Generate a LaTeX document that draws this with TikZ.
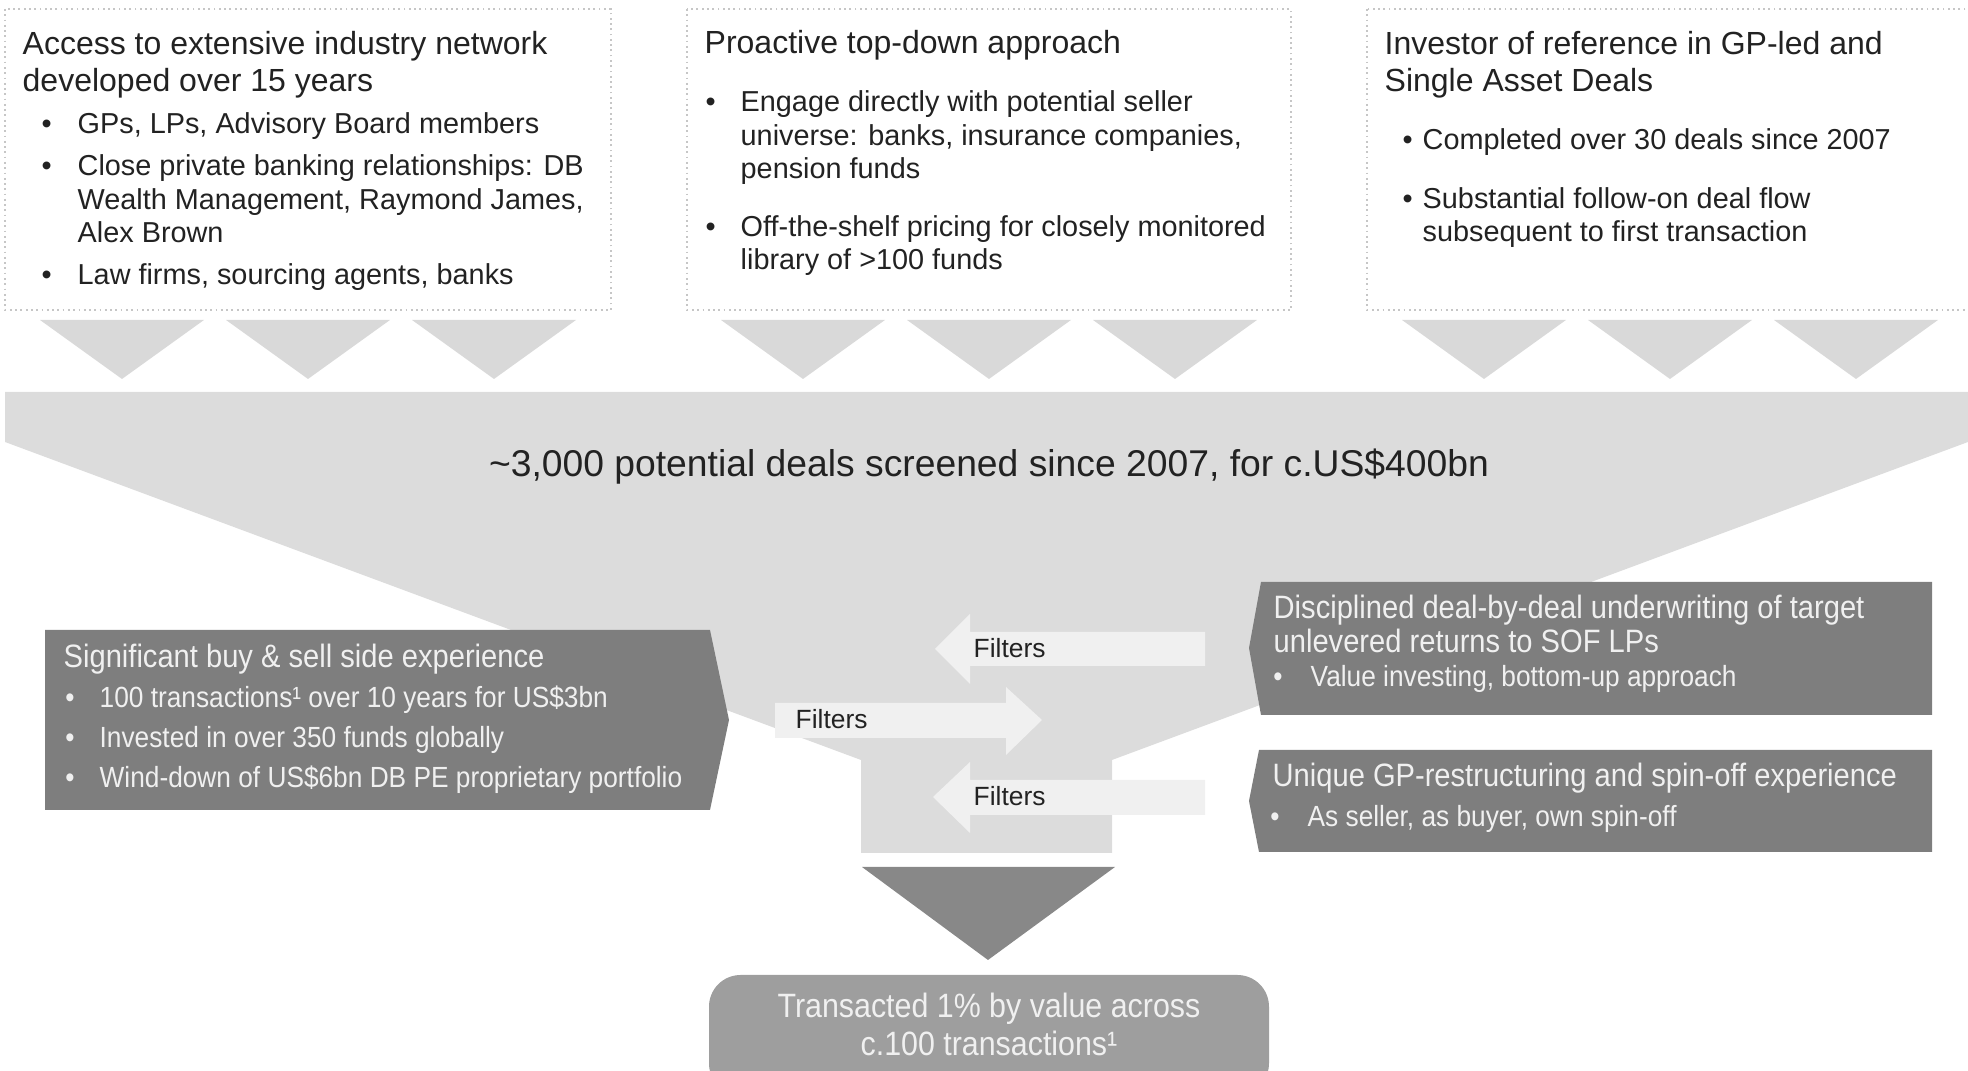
\documentclass[tikz,border=0pt]{standalone}
\usepackage{fontspec}
\setmainfont{Liberation Sans}
\newfontfamily\narrowsans[FakeStretch=0.9]{Liberation Sans}
\usetikzlibrary{positioning}

\definecolor{inkgray}{HTML}{222222}
\definecolor{funnelgray}{HTML}{DCDCDC}
\definecolor{chevgray}{HTML}{D9D9D9}
\definecolor{filtergray}{HTML}{F0F0F0}
\definecolor{boxgray}{HTML}{7E7E7E}
\definecolor{pointgray}{HTML}{888888}
\definecolor{resultgray}{HTML}{9E9E9E}

\begin{document}
\begin{tikzpicture}[
    x=0.01cm, y=-0.01cm,
    srcbox/.style={draw=gray!45, densely dotted, line width=0.5pt, fill=white},
    chevron/.style={fill=chevgray},
    hdr/.style={anchor=base west, inner sep=0pt, align=left, text=inkgray, font=\fontsize{9.1}{10.8}\selectfont},
    blt/.style={anchor=base west, inner sep=0pt, align=left, text=inkgray, font=\fontsize{8.2}{9.6}\selectfont},
    darkhdr/.style={anchor=base west, inner sep=0pt, align=left, text=white!94!black, font=\narrowsans\fontsize{9.2}{9.9}\selectfont},
    darkblt/.style={anchor=base west, inner sep=0pt, align=left, text=white!94!black, font=\narrowsans\fontsize{8.3}{9.6}\selectfont},
    filterarrow/.style={fill=filtergray},
    filtertxt/.style={anchor=base west, inner sep=0pt, text=inkgray, font=\fontsize{7.5}{9}\selectfont}
]
\useasboundingbox (0,0) rectangle (1968,1071);

% Source boxes
\draw[srcbox] (5,9) rectangle (611,310);
\draw[srcbox] (687,9) rectangle (1291,310);
\draw[srcbox] (1367,9) rectangle (1985,310);

% Chevrons under the boxes
\foreach \c in {308,989,1670}
  \foreach \d in {-186,0,186}
    \fill[chevron] ({\c+\d-82},320) -- ({\c+\d+82},320) -- ({\c+\d},379) -- cycle;

% Funnel
\fill[funnelgray] (5,392) -- (1968,392) -- (1968,442) -- (1112,760) -- (1112,853)
  -- (861,853) -- (861,760) -- (5,442) -- cycle;

% Filter arrows
\fill[filterarrow] (1205,632) -- (970,632) -- (970,614) -- (935,649) -- (970,684) -- (970,666) -- (1205,666) -- cycle;
\fill[filterarrow] (775,703) -- (1006,703) -- (1006,687) -- (1042,720) -- (1006,755) -- (1006,738) -- (775,738) -- cycle;
\fill[filterarrow] (1205,780) -- (970,780) -- (970,762) -- (933,797) -- (970,833) -- (970,815) -- (1205,815) -- cycle;

% Side boxes
\fill[boxgray] (45,630) -- (710,630) -- (729,720) -- (710,810) -- (45,810) -- cycle;
\fill[boxgray] (1261,582) -- (1932,582) -- (1932,715) -- (1261,715) -- (1249,648) -- cycle;
\fill[boxgray] (1259,750) -- (1932,750) -- (1932,852) -- (1259,852) -- (1249,801) -- cycle;

% Result
\fill[pointgray] (862,867) -- (1115,867) -- (988,960) -- cycle;
\fill[resultgray, rounded corners=9pt] (709,975) rectangle (1269,1095);

% Nodes (multi-line nodes sit on the baseline of their last line)
\node[hdr] (netT) at (22,92) {Access to extensive industry network\\developed over 15 years};
\node[blt] (net1) at (77,134) {\llap{•\hspace{0.26cm}}GPs, LPs, Advisory Board members};
\node[blt] (net2) at (77,243) {\llap{•\hspace{0.26cm}}Close private banking relationships: DB\\Wealth Management, Raymond James,\\Alex Brown};
\node[blt] (net3) at (77,285) {\llap{•\hspace{0.26cm}}Law firms, sourcing agents, banks};

\node[hdr] (topT) at (704,54) {Proactive top-down approach};
\node[blt] (top1) at (740,179) {\llap{•\hspace{0.25cm}}Engage directly with potential seller\\universe: banks, insurance companies,\\pension funds};
\node[blt] (top2) at (740,270) {\llap{•\hspace{0.25cm}}Off-the-shelf pricing for closely monitored\\library of >100 funds};

\node[hdr] (refT) at (1384,92) {Investor of reference in GP-led and\\Single Asset Deals};
\node[blt] (ref1) at (1422,150) {\llap{•\hspace{0.1cm}}Completed over 30 deals since 2007};
\node[blt] (ref2) at (1422,242) {\llap{•\hspace{0.1cm}}Substantial follow-on deal flow\\subsequent to first transaction};

\node[anchor=base, inner sep=0pt, text=inkgray, font=\fontsize{10.6}{12}\selectfont] (screen) at (989,477)
  {\textasciitilde3,000 potential deals screened since 2007, for c.US\$400bn};

\node[filtertxt] (flt1) at (973,658) {Filters};
\node[filtertxt] (flt2) at (795,729) {Filters};
\node[filtertxt] (flt3) at (973,806) {Filters};

\node[darkhdr] (sideT) at (63,668) {Significant buy \& sell side experience};
\node[darkblt] (side1) at (99,708) {\llap{•\hspace{0.25cm}}100 transactions¹ over 10 years for US\$3bn};
\node[darkblt] (side2) at (99,748) {\llap{•\hspace{0.25cm}}Invested in over 350 funds globally};
\node[darkblt] (side3) at (99,788) {\llap{•\hspace{0.25cm}}Wind-down of US\$6bn DB PE proprietary portfolio};

\node[darkhdr] (uwT) at (1273,653) {Disciplined deal-by-deal underwriting of target\\unlevered returns to SOF LPs};
\node[darkblt] (uw1) at (1310,687) {\llap{•\hspace{0.28cm}}Value investing, bottom-up approach};

\node[darkhdr] (gpT) at (1272,787) {Unique GP-restructuring and spin-off experience};
\node[darkblt] (gp1) at (1307,827) {\llap{•\hspace{0.28cm}}As seller, as buyer, own spin-off};

\node[anchor=base, inner sep=0pt, align=center, text=white!94!black, font=\narrowsans\fontsize{9.6}{11}\selectfont] (deal) at (989,1056)
  {Transacted 1\% by value across\\c.100 transactions¹};

\end{tikzpicture}
\end{document}
